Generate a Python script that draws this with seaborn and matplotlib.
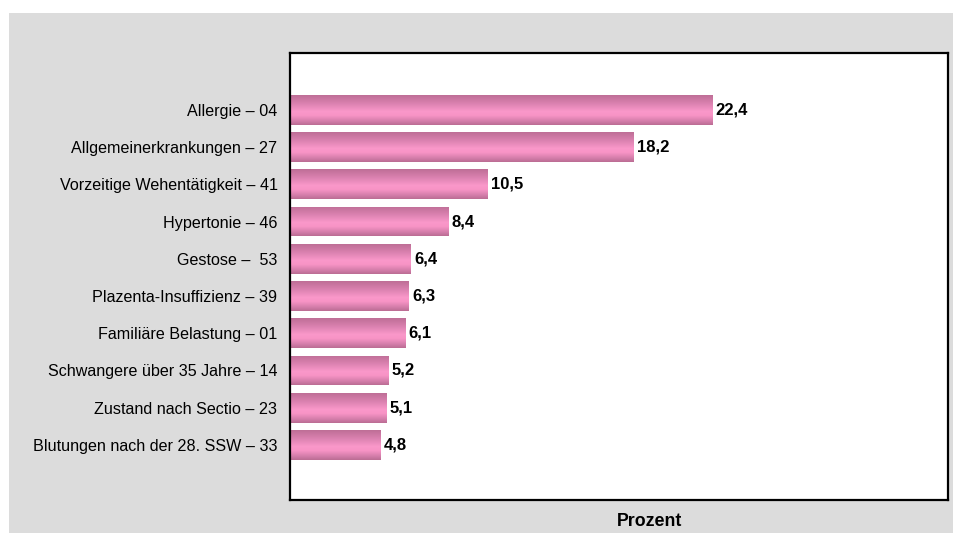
import numpy as np
import pandas as pd
import matplotlib
matplotlib.use("Agg")
import matplotlib.pyplot as plt
from matplotlib.patches import Rectangle
from matplotlib.colors import LinearSegmentedColormap
import seaborn as sns

categories = [
    "Allergie – 04",
    "Allgemeinerkrankungen – 27",
    "Vorzeitige Wehentätigkeit – 41",
    "Hypertonie – 46",
    "Gestose –  53",
    "Plazenta-Insuffizienz – 39",
    "Familiäre Belastung – 01",
    "Schwangere über 35 Jahre – 14",
    "Zustand nach Sectio – 23",
    "Blutungen nach der 28. SSW – 33",
]
values = [22.4, 18.2, 10.5, 8.4, 6.4, 6.3, 6.1, 5.2, 5.1, 4.8]
value_labels = ["22,4", "18,2", "10,5", "8,4", "6,4", "6,3", "6,1", "5,2", "5,1", "4,8"]
x_label = "Prozent"

df = pd.DataFrame({"Kategorie": categories, "Wert": values})

sns.set_style("white")
plt.rcParams["font.family"] = ["Liberation Sans", "DejaVu Sans"]

W, H = 956, 533
fig = plt.figure(figsize=(W / 100, H / 100), dpi=100, facecolor="white")

# grey panel background
fig.patches.append(Rectangle((9 / W, 0), (953 - 9) / W, (533 - 13) / H,
                             transform=fig.transFigure, facecolor="#DCDCDC",
                             edgecolor="none", zorder=-10))

ax = fig.add_axes([290 / W, 1 - 500 / H, (948 - 290) / W, (500 - 53) / H])
ax.set_facecolor("white")

sns.barplot(data=df, x="Wert", y="Kategorie", orient="h", color="#F896C8",
            width=0.8, ax=ax, edgecolor="none", saturation=1)

# gradient fill clipped to each bar
cmap = LinearSegmentedColormap.from_list(
    "pinkbar",
    [(0.0, "#BE6E96"), (0.25, "#D77FAD"), (0.55, "#FA98CA"), (0.68, "#F894C6"),
     (0.88, "#D27CA8"), (1.0, "#BA6C93")])
grad = np.linspace(0, 1, 256).reshape(-1, 1)
for p in list(ax.patches):
    x0, y0 = p.get_x(), p.get_y()
    w, h = p.get_width(), p.get_height()
    im = ax.imshow(grad, cmap=cmap, aspect="auto",
                   extent=(x0, x0 + w, y0 + h, y0), origin="upper",
                   interpolation="bilinear", zorder=p.get_zorder() + 0.1)
    im.set_clip_path(p)

ax.set_xlim(0, 34.9)
ax.set_ylim(10.48, -1.53)

for i, (v, lab) in enumerate(zip(values, value_labels)):
    ax.text(v + 0.18, i, lab, va="center", ha="left", fontsize=12,
            fontweight="bold", color="black")

ax.set_xticks([])
ax.set_xlabel("")
ax.set_ylabel("")
ax.tick_params(axis="y", length=0, pad=9, labelsize=11.6, colors="black")
for s in ax.spines.values():
    s.set_visible(True)
    s.set_color("black")
    s.set_linewidth(1.6)

fig.text(649.5 / W, 1 - 521 / H, x_label, ha="center", va="center",
         fontsize=12.8, fontweight="bold", color="black")

fig.savefig("out.png", dpi=100, facecolor="white")
